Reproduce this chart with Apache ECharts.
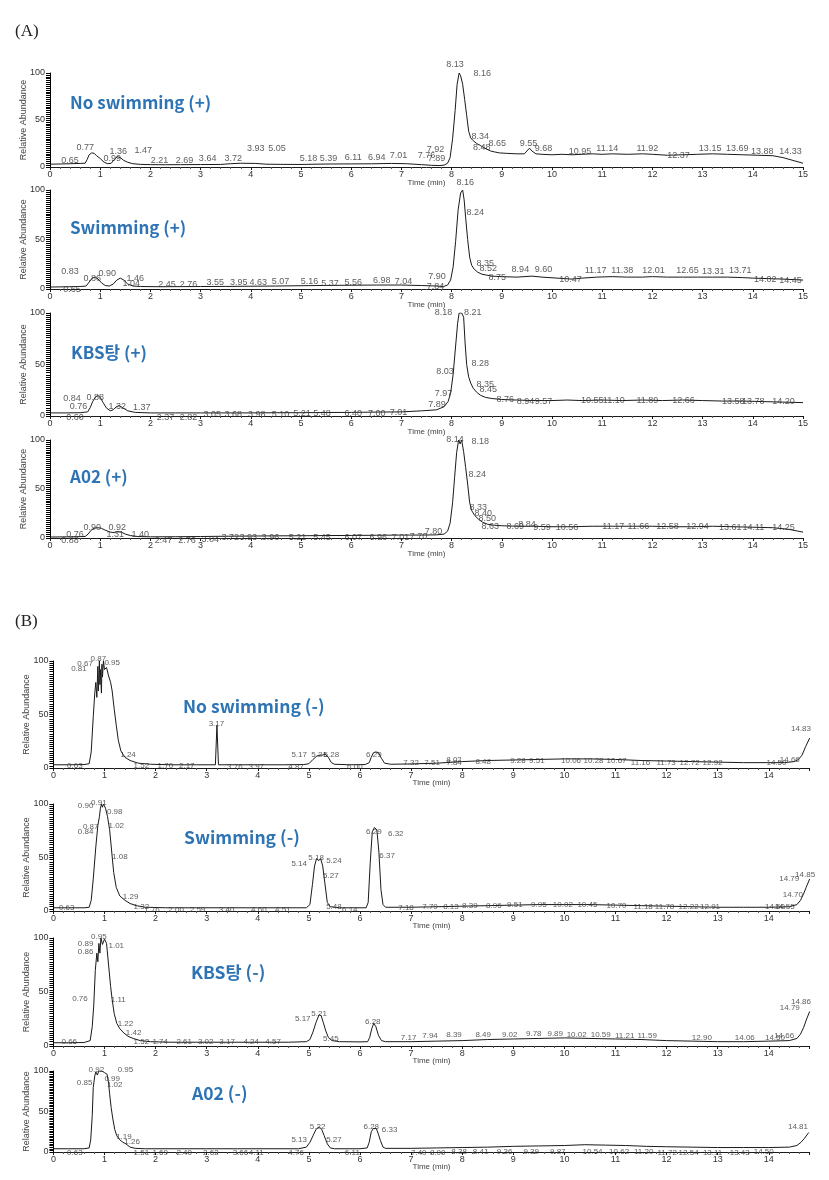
<!DOCTYPE html>
<html><head><meta charset="utf-8">
<script src="https://cdn.jsdelivr.net/npm/echarts@6/dist/echarts.min.js"></script>
<style>html,body{margin:0;padding:0;background:#fff}#c{width:829px;height:1180px}</style>
</head><body><div id="c"></div>
<script>
// ---------- DATA ----------
const sectionLabels = ["(A)", "(B)"];
const panelNamesA = ["No swimming (+)", "Swimming (+)", "KBS탕 (+)", "A02 (+)"];
const panelNamesB = ["No swimming (-)", "Swimming (-)", "KBS탕 (-)", "A02 (-)"];
const yTickValues = [0, 50, 100];
const xAxisName = "Time (min)";
const yAxisName = "Relative Abundance";

// chromatogram traces [time (min), relative abundance]
const traceA1 = [[0,3],[0.2,3.2],[0.4,3.5],[0.6,3.8],[0.7,4],[0.74,8],[0.78,13],[0.83,15],[0.88,14.5],[0.93,12],[1.0,9],[1.08,5],[1.15,3.5],[1.22,4],[1.28,8],[1.34,11],[1.4,10],[1.47,7],[1.55,5],[1.65,3.5],[1.8,2.8],[2.0,2.5],[2.3,2.4],[2.6,2.5],[3.0,2.6],[3.4,2.7],[3.6,3.5],[3.8,4],[4.1,3.8],[4.3,3],[4.6,2.8],[5.0,2.7],[5.3,3],[5.6,3.2],[6.0,3.3],[6.4,3.4],[6.8,3.8],[7.1,3.5],[7.4,2.5],[7.6,1.8],[7.75,1.5],[7.85,2],[7.92,4],[7.97,10],[8.02,30],[8.07,60],[8.11,88],[8.15,100],[8.18,97],[8.22,88],[8.26,72],[8.3,55],[8.34,38],[8.38,31],[8.43,28],[8.5,25],[8.57,23],[8.63,21],[8.7,19],[8.78,17],[8.86,16],[8.95,15],[9.1,14.5],[9.3,14],[9.45,14],[9.5,17],[9.55,20],[9.6,17],[9.68,14],[9.8,13.5],[10.0,13],[10.2,13.5],[10.4,13],[10.6,13.5],[10.8,14],[11.0,13.5],[11.2,14],[11.5,13.5],[11.8,14],[12.0,13.5],[12.3,12.5],[12.6,13],[12.9,13.5],[13.2,14],[13.5,13.5],[13.8,13],[14.1,12.5],[14.4,12],[14.6,10],[14.8,7],[15,4]];
const traceA2 = [[0,2],[0.3,2.2],[0.6,2.5],[0.72,3],[0.78,7],[0.84,11],[0.9,12],[0.96,10],[1.03,6],[1.1,3.5],[1.18,3],[1.26,5],[1.33,9],[1.4,11],[1.47,9],[1.55,5],[1.65,3],[1.8,2.5],[2.2,2.3],[2.6,2.4],[3.0,2.5],[3.5,2.6],[4.0,2.8],[4.5,3],[5.0,3.3],[5.5,3.6],[6.0,3.8],[6.5,4],[7.0,4],[7.4,3.5],[7.7,3],[7.84,2.5],[7.92,4],[7.98,9],[8.03,22],[8.08,48],[8.13,80],[8.18,97],[8.22,100],[8.25,90],[8.28,72],[8.32,50],[8.36,32],[8.4,24],[8.45,20],[8.52,17],[8.6,15],[8.7,14],[8.8,13],[9.0,12.5],[9.3,12],[9.6,13],[9.8,12],[10.1,11],[10.4,10],[10.6,11],[10.9,12],[11.2,12.5],[11.5,12],[11.8,12],[12.0,12.5],[12.3,12],[12.6,12],[12.9,12],[13.2,12],[13.5,12],[13.8,11.5],[14.0,11],[14.3,10.5],[14.6,10],[15,9]];
const traceA3 = [[0,3],[0.3,3],[0.6,3.2],[0.75,4],[0.8,8],[0.85,14],[0.9,18],[0.95,20],[1.0,18],[1.06,13],[1.12,8],[1.2,5],[1.26,6],[1.32,9],[1.38,10],[1.45,8],[1.55,5],[1.7,3.5],[2.0,3],[2.5,3],[3.0,3],[3.5,3],[4.0,3],[4.5,3.2],[5.0,3.2],[5.5,3.4],[6.0,3.5],[6.5,3.8],[7.0,4],[7.4,5],[7.7,6],[7.85,9],[7.93,14],[7.98,22],[8.03,40],[8.08,68],[8.12,90],[8.15,100],[8.2,100],[8.24,96],[8.27,70],[8.3,50],[8.34,38],[8.38,32],[8.43,27],[8.5,23],[8.58,20],[8.68,18],[8.8,17],[9.0,16],[9.3,15.5],[9.6,15],[10.0,15],[10.3,15.5],[10.6,15],[11.0,15.5],[11.4,15],[11.8,15.5],[12.2,15],[12.6,15.5],[13.0,15],[13.4,14.5],[13.8,14.5],[14.2,14],[14.6,13.5],[15,13]];
const traceA4 = [[0,1],[0.4,1.2],[0.7,1.5],[0.76,4],[0.82,8],[0.88,10],[0.95,10.5],[1.02,10],[1.1,8],[1.2,6],[1.28,5.5],[1.35,6.5],[1.42,6],[1.5,4],[1.6,2.5],[1.75,1.5],[2.0,1.2],[2.5,1.3],[3.0,1.5],[3.5,1.8],[4.0,2],[4.5,2.2],[5.0,2.3],[5.5,2.5],[6.0,2.6],[6.5,2.8],[7.0,3],[7.4,3],[7.7,3.2],[7.85,4],[7.92,7],[7.97,15],[8.02,36],[8.06,62],[8.1,87],[8.14,100],[8.17,96],[8.2,100],[8.24,88],[8.28,72],[8.32,55],[8.36,36],[8.4,28],[8.46,23],[8.54,19],[8.62,16],[8.72,14],[8.85,13],[9.0,12.5],[9.3,12],[9.6,12],[10.0,11.5],[10.4,11.5],[10.8,12],[11.2,12],[11.6,12],[12.0,12],[12.4,11.5],[12.8,11.5],[13.2,12],[13.6,11.5],[14.0,11],[14.4,10.5],[14.7,9],[15,6]];
const traceB1 = [[0,3],[0.3,3],[0.6,3.2],[0.7,4],[0.74,15],[0.78,48],[0.81,70],[0.83,80],[0.85,66],[0.87,95],[0.88,72],[0.9,100],[0.91,78],[0.92,92],[0.94,70],[0.95,97],[0.96,85],[0.98,100],[1.0,92],[1.04,94],[1.08,86],[1.12,80],[1.15,72],[1.19,55],[1.23,40],[1.27,26],[1.32,16],[1.4,10],[1.5,7],[1.66,4.5],[1.9,3.5],[2.3,3],[2.8,3],[3.17,3],[3.2,40],[3.23,3],[3.6,3],[4.0,3],[4.5,3],[4.9,3.2],[5.0,4],[5.08,8],[5.15,11],[5.2,12],[5.26,12],[5.32,13],[5.38,10],[5.44,5],[5.5,3.5],[5.8,3],[6.1,3.2],[6.18,5],[6.22,10],[6.26,14],[6.3,15],[6.36,14.5],[6.42,9],[6.48,4.5],[6.6,3.5],[7.0,3.8],[7.5,4.5],[8.0,6],[8.5,7],[9.0,7.5],[9.5,8],[10.0,8.5],[10.5,8.5],[11.0,8],[11.5,7],[12.0,6.5],[12.5,6],[13.0,5.5],[13.5,5],[14.0,5],[14.3,5],[14.5,6],[14.58,8],[14.65,12],[14.72,20],[14.8,28]];
const traceB2 = [[0,3],[0.3,3],[0.6,3],[0.7,3.5],[0.74,10],[0.78,30],[0.83,60],[0.87,80],[0.9,88],[0.92,96],[0.94,100],[0.96,97],[0.98,100],[1.02,96],[1.06,88],[1.1,76],[1.14,56],[1.18,36],[1.23,22],[1.3,14],[1.4,10],[1.5,7],[1.62,5],[1.8,3.5],[2.2,3],[2.8,3],[3.4,3],[4.0,3],[4.6,3],[4.95,3],[5.02,6],[5.07,25],[5.11,42],[5.15,49],[5.19,47],[5.23,49],[5.27,42],[5.31,27],[5.36,8],[5.42,4],[5.6,3],[5.9,3],[6.12,3],[6.16,8],[6.2,45],[6.24,74],[6.28,78],[6.33,76],[6.37,55],[6.41,20],[6.45,6],[6.5,3.5],[7.0,3.5],[7.5,4],[8.0,4.5],[8.5,5],[9.0,5.5],[9.5,6],[10.0,6],[10.5,6],[11.0,5.5],[11.5,5],[12.0,4.5],[12.5,4],[13.0,3.5],[13.5,3.5],[14.0,3.5],[14.4,4],[14.55,6],[14.62,10],[14.68,16],[14.73,22],[14.8,30]];
const traceB3 = [[0,3],[0.3,3],[0.6,3.2],[0.72,5],[0.76,18],[0.79,38],[0.82,70],[0.85,86],[0.87,78],[0.89,95],[0.91,86],[0.93,100],[0.96,94],[1.0,99],[1.04,95],[1.08,75],[1.12,55],[1.15,43],[1.19,30],[1.24,21],[1.3,16],[1.38,12],[1.46,9],[1.56,7],[1.7,5],[1.9,4],[2.3,3.5],[2.8,3.5],[3.4,3.5],[4.0,3.5],[4.6,3.5],[4.95,4],[5.02,6],[5.08,13],[5.14,22],[5.2,29],[5.24,28],[5.28,22],[5.33,14],[5.38,8],[5.45,5],[5.6,4],[6.0,3.8],[6.15,4],[6.19,8],[6.23,16],[6.27,21],[6.31,18],[6.36,10],[6.42,5],[6.5,4],[7.0,4],[7.5,4.5],[8.0,5],[8.5,6],[9.0,6.5],[9.5,7],[10.0,7.5],[10.5,7],[11.0,6.5],[11.5,6],[12.0,5],[12.5,4.5],[13.0,4],[13.5,4],[14.0,4.5],[14.4,5],[14.55,7],[14.62,11],[14.68,17],[14.74,25],[14.8,32]];
const traceB4 = [[0,4],[0.3,4],[0.6,4],[0.7,5],[0.73,15],[0.76,45],[0.78,80],[0.81,94],[0.83,99],[0.86,95],[0.89,100],[0.92,98],[0.95,100],[1.0,98],[1.05,96],[1.08,85],[1.1,72],[1.13,55],[1.16,42],[1.2,28],[1.24,20],[1.3,15],[1.36,12],[1.42,10],[1.5,6],[1.6,4.5],[1.8,4],[2.3,4],[3.0,4],[3.6,4],[4.2,4],[4.8,4],[4.95,6],[5.02,12],[5.08,20],[5.14,28],[5.2,31],[5.25,28],[5.3,20],[5.36,10],[5.42,5],[5.5,4],[6.0,4],[6.14,5],[6.18,12],[6.22,25],[6.26,29],[6.32,29],[6.36,22],[6.4,14],[6.45,6],[6.5,4.5],[7.0,4.5],[7.5,5],[8.0,5.5],[8.5,6],[9.0,7],[9.5,7.5],[10.0,8],[10.4,9],[10.8,8.5],[11.2,8],[11.6,7],[12.0,6.5],[12.5,6],[13.0,5.5],[13.5,5.5],[14.0,5.5],[14.4,6],[14.55,8],[14.63,12],[14.7,17],[14.78,24]];

// peak annotations [time anchor, abundance anchor, label text]
const peaksA1 = [[0.40,7.4,"0.65"],[0.70,21,"0.77"],[1.24,8.5,"0.99"],[1.36,16,"1.36"],[1.86,18,"1.47"],[2.18,7.4,"2.21"],[2.68,7.4,"2.69"],[3.14,8.5,"3.64"],[3.65,8.5,"3.72"],[4.10,20,"3.93"],[4.52,20,"5.05"],[5.15,8.5,"5.18"],[5.55,8.5,"5.39"],[6.04,9.6,"6.11"],[6.51,10.6,"6.94"],[6.94,11.7,"7.01"],[7.50,12,"7.76"],[7.68,19,"7.92"],[7.70,8.5,"7.89"],[8.07,109,"8.13"],[8.61,99,"8.16"],[8.57,32,"8.34"],[8.60,21,"8.48"],[8.91,24.5,"8.65"],[9.53,25.5,"9.55"],[9.83,20,"9.68"],[10.56,16,"10.95"],[11.10,20,"11.14"],[11.90,20,"11.92"],[12.52,11.7,"12.37"],[13.15,20,"13.15"],[13.69,20,"13.69"],[14.19,16,"13.88"],[14.75,16,"14.33"]];
const peaksA2 = [[0.40,18,"0.83"],[0.44,-1,"0.65"],[0.84,11,"0.86"],[1.14,16,"0.90"],[1.62,6,"1.04"],[1.70,11,"1.46"],[2.33,5,"2.45"],[2.76,5,"2.76"],[3.29,7,"3.55"],[3.76,7,"3.95"],[4.15,7,"4.63"],[4.59,8,"5.07"],[5.17,8,"5.16"],[5.58,6,"5.37"],[6.04,7,"5.56"],[6.61,9,"6.98"],[7.04,8,"7.04"],[7.71,13,"7.90"],[7.68,3,"7.84"],[8.27,108,"8.16"],[8.47,77,"8.24"],[8.67,26,"8.35"],[8.73,21,"8.52"],[8.91,12,"8.75"],[9.37,20,"8.94"],[9.83,20,"9.60"],[10.37,10,"10.47"],[10.87,19,"11.17"],[11.40,19,"11.38"],[12.02,19,"12.01"],[12.70,19,"12.65"],[13.21,18,"13.31"],[13.75,19,"13.71"],[14.25,10,"14.02"],[14.75,9,"14.45"]];
const peaksA3 = [[0.44,16.5,"0.84"],[0.90,17.5,"0.88"],[0.57,9,"0.76"],[0.50,-1,"0.60"],[1.34,9,"1.32"],[1.83,8,"1.37"],[2.30,-1,"2.37"],[2.76,-1,"2.82"],[3.23,1,"3.05"],[3.65,1,"3.68"],[4.12,1,"3.98"],[4.59,1,"5.10"],[5.02,2,"5.21"],[5.42,2,"5.48"],[6.04,2,"6.40"],[6.51,2,"7.00"],[6.94,3,"7.01"],[7.71,11,"7.89"],[7.84,22,"7.97"],[7.87,43,"8.03"],[7.84,100,"8.18"],[8.42,100,"8.21"],[8.57,51,"8.28"],[8.67,31,"8.35"],[8.73,26,"8.45"],[9.07,16,"8.76"],[9.47,14,"8.94"],[9.83,14,"9.57"],[10.80,15,"10.55"],[11.23,15,"11.10"],[11.90,15,"11.89"],[12.62,15,"12.66"],[13.61,14,"13.58"],[14.01,14,"13.78"],[14.61,14,"14.20"]];
const peaksA4 = [[0.50,4,"0.76"],[0.40,-3,"0.88"],[0.84,11,"0.90"],[1.34,11,"0.92"],[1.30,4,"1.31"],[1.80,4,"1.40"],[2.26,-3,"2.47"],[2.73,-3,"2.76"],[3.19,-2,"3.04"],[3.59,1,"3.72"],[3.95,1,"3.93"],[4.39,0,"3.96"],[4.93,0,"5.21"],[5.42,0,"5.45"],[6.04,0,"6.07"],[6.54,1,"6.96"],[6.98,1,"7.01"],[7.34,2,"7.70"],[7.64,7,"7.80"],[8.07,100,"8.14"],[8.57,98,"8.18"],[8.51,65,"8.24"],[8.53,31,"8.33"],[8.63,25,"8.40"],[8.71,20,"8.50"],[8.77,12,"8.63"],[9.27,12,"8.69"],[9.50,14,"8.84"],[9.80,11,"9.59"],[10.30,11,"10.56"],[11.22,12,"11.17"],[11.72,12,"11.66"],[12.30,12,"12.58"],[12.90,12,"12.94"],[13.55,11,"13.61"],[14.01,11,"14.11"],[14.61,11,"14.25"]];
const peaksB1 = [[0.50,93,"0.81"],[0.62,97,"0.67"],[0.88,102,"0.87"],[1.15,98,"0.95"],[1.46,12,"1.24"],[0.42,2,"0.63"],[1.72,2,"1.52"],[2.19,2,"1.70"],[2.61,2,"2.17"],[3.19,41,"3.17"],[3.55,1,"3.76"],[3.97,1,"3.97"],[4.75,1,"4.87"],[4.81,12,"5.17"],[5.20,12,"5.21"],[5.44,12,"5.28"],[5.90,1,"6.00"],[6.27,12,"6.29"],[7.00,5,"7.32"],[7.41,5,"7.51"],[7.84,5,"7.84"],[7.84,8,"8.02"],[8.41,6,"8.48"],[9.09,7,"9.28"],[9.46,7,"9.51"],[10.13,7,"10.06"],[10.57,7,"10.28"],[11.02,7,"10.67"],[11.49,5,"11.16"],[11.99,5,"11.73"],[12.45,5,"12.72"],[12.90,5,"12.92"],[14.15,5,"14.50"],[14.41,8,"14.66"],[14.63,37,"14.83"]];
const peaksB2 = [[0.26,3,"0.63"],[0.63,98,"0.90"],[0.89,101,"0.91"],[1.20,93,"0.98"],[0.63,74,"0.84"],[0.73,79,"0.87"],[1.23,80,"1.02"],[1.30,51,"1.08"],[1.51,13,"1.29"],[1.72,4,"1.32"],[1.93,1,"1.76"],[2.40,1,"2.00"],[2.82,1,"2.59"],[3.39,1,"3.40"],[4.02,1,"4.60"],[4.49,1,"4.51"],[4.81,44,"5.14"],[5.14,50,"5.18"],[5.49,47,"5.24"],[5.43,33,"5.27"],[5.49,4,"5.48"],[5.80,1,"6.14"],[6.27,74,"6.29"],[6.70,72,"6.32"],[6.53,52,"6.37"],[6.90,3,"7.18"],[7.37,4,"7.79"],[7.78,4,"8.13"],[8.15,5,"8.39"],[8.62,5,"8.96"],[9.03,6,"9.51"],[9.50,6,"9.95"],[9.97,6,"10.02"],[10.45,6,"10.45"],[11.02,5,"10.70"],[11.54,4,"11.18"],[11.96,4,"11.78"],[12.43,4,"12.22"],[12.85,4,"12.91"],[14.12,4,"14.50"],[14.31,4,"14.55"],[14.47,15,"14.70"],[14.40,30,"14.79"],[14.71,34,"14.85"]];
const peaksB3 = [[0.89,101,"0.95"],[0.63,95,"0.89"],[1.23,93,"1.01"],[0.63,87,"0.86"],[0.52,44,"0.76"],[1.27,43,"1.11"],[1.41,21,"1.22"],[1.57,12,"1.42"],[0.31,4,"0.66"],[1.72,4,"1.52"],[2.09,4,"1.74"],[2.56,4,"2.61"],[2.98,4,"3.02"],[3.40,4,"3.17"],[3.87,4,"4.24"],[4.30,4,"4.57"],[4.88,25,"5.17"],[5.20,30,"5.21"],[5.43,7,"5.45"],[6.25,22,"6.28"],[6.95,8,"7.17"],[7.37,9,"7.94"],[7.84,10,"8.39"],[8.41,10,"8.49"],[8.93,10,"9.02"],[9.40,11,"9.78"],[9.82,11,"9.89"],[10.24,10,"10.02"],[10.71,10,"10.59"],[11.18,9,"11.21"],[11.62,9,"11.59"],[12.69,8,"12.90"],[13.53,8,"14.06"],[14.12,8,"14.50"],[14.30,9,"14.66"],[14.41,35,"14.79"],[14.63,41,"14.86"]];
const peaksB4 = [[0.84,102,"0.92"],[1.41,101,"0.95"],[0.61,85,"0.85"],[1.15,90,"0.99"],[1.20,83,"1.02"],[1.38,19,"1.19"],[1.54,12,"1.26"],[0.42,-1,"0.63"],[1.72,-1,"1.51"],[2.09,-1,"1.69"],[2.56,-1,"2.40"],[3.08,-1,"2.62"],[3.66,-1,"3.66"],[3.97,-1,"4.11"],[4.75,-1,"4.76"],[4.81,15,"5.13"],[5.17,31,"5.22"],[5.49,15,"5.27"],[5.85,-1,"6.11"],[6.22,31,"6.28"],[6.58,28,"6.33"],[7.15,-1,"7.40"],[7.52,-1,"8.00"],[7.94,0,"8.38"],[8.36,0,"8.41"],[8.83,0,"9.36"],[9.35,0,"9.39"],[9.87,0,"9.87"],[10.55,0,"10.54"],[11.07,0,"10.62"],[11.55,0,"11.20"],[12.01,-1,"11.72"],[12.43,-1,"12.54"],[12.90,-1,"13.11"],[13.43,-1,"13.43"],[13.90,0,"14.50"],[14.57,31,"14.81"]];

const tracesA = [traceA1, traceA2, traceA3, traceA4];
const tracesB = [traceB1, traceB2, traceB3, traceB4];
const peakSetsA = [peaksA1, peaksA2, peaksA3, peaksA4];
const peakSetsB = [peaksB1, peaksB2, peaksB3, peaksB4];
const xMaxA = 15, xMaxB = 14.8;

// ---------- LAYOUT ----------
const gridsA = [[73,94],[190,99],[313,103],[440,98]];
const gridsB = [[661,107],[804,107],[938,108],[1071,81]];
const titlePosA = [[70,103],[70,228],[71,353],[70,477]];
const titlePosB = [[183,706],[184,837],[191,972],[192,1093]];

const chart = echarts.init(document.getElementById('c'), null, {renderer:'canvas'});
const grid = [], xAxis = [], yAxis = [], series = [], graphic = [];
const INK = '#1a1a1a';

function addPanel(top, height, isB, trace, peaks) {
  const i = grid.length;
  grid.push(isB
    ? {left: 53.4, width: 756.3, top: top, height: height, outerBoundsMode: 'none', containLabel: false}
    : {left: 50, width: 753, top: top, height: height, outerBoundsMode: 'none', containLabel: false});
  xAxis.push({
    gridIndex: i, type: 'value', min: 0, max: isB ? xMaxB : xMaxA, interval: 1,
    name: xAxisName, nameLocation: 'middle', nameGap: isB ? 11 : 12, nameMoveOverlap: false,
    nameTextStyle: {fontSize: 8, color: '#444', fontFamily: 'Liberation Sans'},
    axisLine: {show: true, onZero: false, lineStyle: {color: INK, width: 1}},
    axisTick: {show: true, length: 3, lineStyle: {color: INK}},
    minorTick: {show: true, splitNumber: 5, length: 2, lineStyle: {color: '#555'}},
    axisLabel: {fontSize: 9, color: '#333', margin: 3, fontFamily: 'Liberation Sans', showMaxLabel: !isB},
    splitLine: {show: false}
  });
  yAxis.push({
    gridIndex: i, type: 'value', min: yTickValues[0], max: yTickValues[yTickValues.length-1],
    interval: yTickValues[1] - yTickValues[0],
    name: yAxisName, nameLocation: 'middle', nameGap: 22, nameMoveOverlap: false,
    nameTextStyle: {fontSize: 9, color: '#444', fontFamily: 'Liberation Sans'},
    axisLine: {show: true, lineStyle: {color: '#000', width: 1}},
    axisTick: {show: true, length: 4, lineStyle: {color: '#000', width: 1}},
    minorTick: {show: true, splitNumber: 25, length: 4, lineStyle: {color: '#000', width: 1}},
    axisLabel: {fontSize: 9, color: '#333', margin: 5, fontFamily: 'Liberation Sans'},
    splitLine: {show: false}
  });
  series.push({
    type: 'line', xAxisIndex: i, yAxisIndex: i, data: trace, showSymbol: false, symbol: 'none',
    lineStyle: {color: INK, width: 1}, animation: false, silent: true, z: 3
  });
  series.push({
    type: 'scatter', xAxisIndex: i, yAxisIndex: i, clip: false, animation: false, silent: true,
    symbolSize: 1, itemStyle: {color: 'rgba(0,0,0,0)'},
    encode: {x: 0, y: 1},
    data: peaks.map(p => ({value: [p[0], p[1]], name: p[2]})),
    label: {show: true, position: 'inside', formatter: p => p.name,
      fontSize: isB ? 8 : 9, color: '#333',
      fontFamily: isB ? '"Liberation Sans Narrow","Liberation Sans",sans-serif' : '"Liberation Sans",sans-serif'},
    z: 4
  });
}

gridsA.forEach((g, k) => addPanel(g[0], g[1], false, tracesA[k], peakSetsA[k]));
gridsB.forEach((g, k) => addPanel(g[0], g[1], true, tracesB[k], peakSetsB[k]));

const titleFont = {fill: '#2e74b5', fontWeight: 'bold', fontFamily: '"Noto Sans CJK KR","Noto Sans",sans-serif'};
panelNamesA.forEach((n, k) => graphic.push({type: 'text', x: titlePosA[k][0], y: titlePosA[k][1],
  style: Object.assign({text: n, verticalAlign: 'middle', fontSize: 17}, titleFont)}));
panelNamesB.forEach((n, k) => graphic.push({type: 'text', x: titlePosB[k][0], y: titlePosB[k][1],
  style: Object.assign({text: n, verticalAlign: 'middle', fontSize: 17.5}, titleFont)}));
graphic.push({type: 'text', x: 15, y: 32, style: {text: sectionLabels[0], verticalAlign: 'middle', fontSize: 17, fill: '#222', fontFamily: '"Liberation Serif",serif'}});
graphic.push({type: 'text', x: 15, y: 622, style: {text: sectionLabels[1], verticalAlign: 'middle', fontSize: 17, fill: '#222', fontFamily: '"Liberation Serif",serif'}});

chart.setOption({animation: false, backgroundColor: '#fff', grid, xAxis, yAxis, series, graphic});
</script>
</body></html>
